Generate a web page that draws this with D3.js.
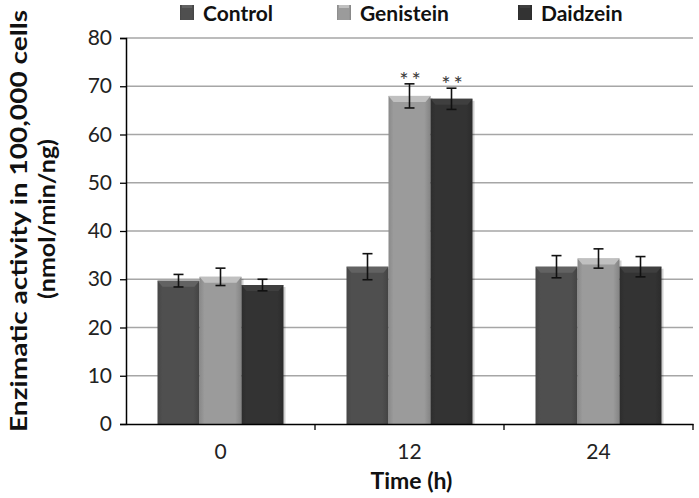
<!DOCTYPE html>
<html>
<head>
<meta charset="utf-8">
<script src="https://cdn.jsdelivr.net/npm/d3@7"></script>
<style>
  html, body { margin: 0; padding: 0; background: #fff; }
  svg { display: block; }
  text { font-family: Lato, "Open Sans", sans-serif; }
</style>
</head>
<body>
<svg id="chart" width="699" height="498"></svg>
<script>
// ---- data ----
const categories = ["0", "12", "24"];
const seriesNames = ["Control", "Genistein", "Daidzein"];
const controlValues = [29.7, 32.6, 32.6];
const genisteinValues = [30.5, 68.0, 34.3];
const daidzeinValues = [28.8, 67.4, 32.6];
const controlErrors = [1.3, 2.7, 2.3];
const genisteinErrors = [1.8, 2.5, 2.0];
const daidzeinErrors = [1.2, 2.2, 2.1];
const genisteinMarks = ["", "**", ""];
const daidzeinMarks = ["", "**", ""];
const yTicks = [0, 10, 20, 30, 40, 50, 60, 70, 80];
const seriesColors = ["#4f4f4f", "#9b9b9b", "#333333"];

const seriesValues = [controlValues, genisteinValues, daidzeinValues];
const seriesErrors = [controlErrors, genisteinErrors, daidzeinErrors];
const seriesMarks = [[], genisteinMarks, daidzeinMarks];

const rows = [];
categories.forEach((c, ci) => {
  seriesNames.forEach((s, si) => {
    rows.push({cat: c, series: s, si, value: seriesValues[si][ci], err: seriesErrors[si][ci], mark: seriesMarks[si][ci] || ""});
  });
});

// ---- layout ----
const svg = d3.select("#chart");
const mLeft = 126, mRight = 693, mTop = 38, mBottom = 424;

const y = d3.scaleLinear().domain([0, 80]).range([mBottom, mTop]);
const x0 = d3.scaleBand().domain(categories).range([mLeft, mRight]).padding(0);
const bw = x0.bandwidth();
const x1 = d3.scaleBand().domain(seriesNames).range([bw / 6, bw * 5 / 6]).padding(0);

const defs = svg.append("defs");
seriesColors.forEach((col, i) => {
  const g = defs.append("linearGradient").attr("id", "grad" + i).attr("x1", "0").attr("x2", "1").attr("y1", "0").attr("y2", "0");
  const c = d3.color(col);
  g.append("stop").attr("offset", "0%").attr("stop-color", c.darker(0.35));
  g.append("stop").attr("offset", "12%").attr("stop-color", c);
  g.append("stop").attr("offset", "85%").attr("stop-color", c);
  g.append("stop").attr("offset", "100%").attr("stop-color", c.darker(0.45));
});

// gridlines
svg.append("g").selectAll("line").data(yTicks.filter(d => d > 0)).join("line")
  .attr("x1", mLeft).attr("x2", mRight)
  .attr("y1", d => y(d)).attr("y2", d => y(d))
  .attr("stroke", "#a6a6a6").attr("stroke-width", 1.3);

// bars
const barG = svg.append("g");
const bars = barG.selectAll("g").data(rows).join("g")
  .attr("transform", d => `translate(${x0(d.cat) + x1(d.series)},0)`);
const w = x1.bandwidth();
bars.append("rect")
  .attr("x", 2).attr("y", d => y(d.value) + 2)
  .attr("width", w).attr("height", d => mBottom - y(d.value) - 1)
  .attr("fill", "#000").attr("opacity", 0.18);
bars.append("rect")
  .attr("x", 0).attr("y", d => y(d.value))
  .attr("width", w).attr("height", d => mBottom - y(d.value))
  .attr("fill", d => `url(#grad${d.si})`);
bars.append("path")
  .attr("d", d => {
    const t = y(d.value), h = 6, inset = 5;
    return `M0,${t} L${w},${t} L${w - inset},${t + h} L${inset},${t + h} Z`;
  })
  .attr("fill", d => d3.color(seriesColors[d.si]).brighter(0.6));

// error bars
const eb = svg.append("g").attr("stroke", "#111").attr("stroke-width", 1.6).attr("fill", "none");
rows.forEach(d => {
  const cx = x0(d.cat) + x1(d.series) + w / 2;
  const y1 = y(d.value + d.err), y2 = y(d.value - d.err);
  eb.append("line").attr("x1", cx).attr("x2", cx).attr("y1", y1).attr("y2", y2);
  eb.append("line").attr("x1", cx - 5).attr("x2", cx + 5).attr("y1", y1).attr("y2", y1);
  eb.append("line").attr("x1", cx - 5).attr("x2", cx + 5).attr("y1", y2).attr("y2", y2);
});

// significance marks
svg.append("g").selectAll("text").data(rows.filter(d => d.mark)).join("text")
  .attr("x", d => x0(d.cat) + x1(d.series) + w / 2 + 2)
  .attr("y", d => y(d.value + d.err) + 4)
  .attr("text-anchor", "middle")
  .attr("font-family", "'DejaVu Sans', sans-serif")
  .attr("font-size", 22).attr("letter-spacing", 3).attr("fill", "#3a3a3a")
  .text(d => d.mark);

// y axis
const yAxis = svg.append("g").attr("transform", `translate(${mLeft},0)`)
  .call(d3.axisLeft(y).tickValues(yTicks).tickSize(6).tickPadding(8));
yAxis.select(".domain").attr("stroke", "#000").attr("stroke-width", 1.5);
yAxis.selectAll(".tick line").attr("stroke", "#000").attr("stroke-width", 1.3);
yAxis.selectAll(".tick text").attr("font-family", "Lato, sans-serif").attr("font-size", 21).attr("fill", "#222");

// x axis
const xAxis = svg.append("g").attr("transform", `translate(0,${mBottom})`)
  .call(d3.axisBottom(x0).tickSize(0).tickPadding(20));
xAxis.select(".domain").attr("stroke", "#000").attr("stroke-width", 1.5);
xAxis.selectAll(".tick text").attr("font-family", "Lato, sans-serif").attr("font-size", 21).attr("fill", "#222");
svg.append("g").selectAll("line").data(categories.slice(1).concat(["end"])).join("line")
  .attr("x1", d => d === "end" ? mRight : x0(d)).attr("x2", d => d === "end" ? mRight : x0(d))
  .attr("y1", mBottom).attr("y2", mBottom + 6)
  .attr("stroke", "#000").attr("stroke-width", 1.3);

// axis titles
svg.append("text").attr("x", (mLeft + mRight) / 2 + 2).attr("y", 489)
  .attr("text-anchor", "middle").attr("font-weight", "bold").attr("font-size", 23).attr("fill", "#111")
  .text("Time (h)");

const yt1 = svg.append("text").attr("transform", "translate(27,221) rotate(-90)")
  .attr("text-anchor", "middle").attr("font-weight", "bold").attr("font-size", 22).attr("fill", "#111")
  .text("Enzimatic activity in 100,000 cells");
const yt2 = svg.append("text").attr("transform", "translate(55,219) rotate(-90)")
  .attr("text-anchor", "middle").attr("font-weight", "bold").attr("font-size", 22).attr("fill", "#111")
  .text("(nmol/min/ng)");
yt1.attr("textLength", 422).attr("lengthAdjust", "spacingAndGlyphs");
yt2.attr("textLength", 160).attr("lengthAdjust", "spacingAndGlyphs");

// legend
const legendX = [180, 337, 518];
const lg = svg.append("g");
seriesNames.forEach((s, i) => {
  const g = lg.append("g").attr("transform", `translate(${legendX[i]},5)`);
  g.append("rect").attr("x", 0).attr("y", 0).attr("width", 14).attr("height", 15)
    .attr("fill", `url(#grad${i})`);
  g.append("rect").attr("x", 2).attr("y", 0).attr("width", 10).attr("height", 3)
    .attr("fill", d3.color(seriesColors[i]).brighter(0.6));
  g.append("text").attr("x", 23).attr("y", 16)
    .attr("font-weight", "bold").attr("font-size", 21).attr("fill", "#111").text(s);
});
</script>
</body>
</html>
